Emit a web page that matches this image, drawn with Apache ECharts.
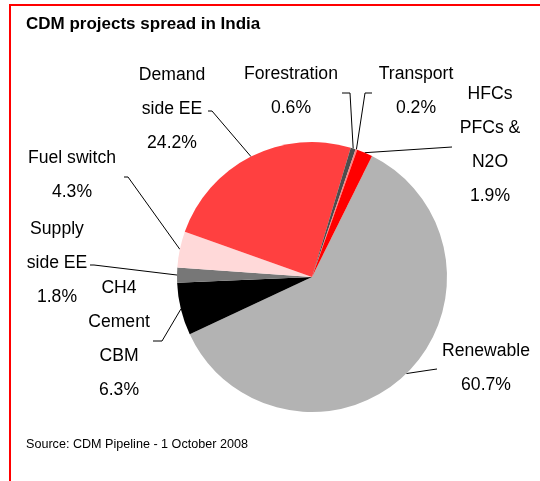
<!DOCTYPE html>
<html>
<head>
<meta charset="utf-8">
<script src="https://cdn.jsdelivr.net/npm/echarts@6/dist/echarts.min.js"></script>
<style>
  html, body { margin: 0; padding: 0; background: #fff; }
  #chart { width: 540px; height: 481px; }
</style>
</head>
<body>
<div id="chart"></div>
<script>
// data, clockwise from the Renewable slice
const names = [
  "Renewable",
  "CH4\nCement\nCBM",
  "Supply\nside EE",
  "Fuel switch",
  "Demand\nside EE",
  "Forestration",
  "Transport",
  "HFCs\nPFCs &\nN2O",
];
const shares = [60.7, 6.3, 1.8, 4.3, 24.2, 0.6, 0.2, 1.9];
const colors = ["#b3b3b3", "#000000", "#777777", "#ffd9d9", "#ff4040", "#4d4d4d", "#ff8080", "#ff0000"];

// where each label block sits: [centre x, centre y, elbow x, elbow y, end x, end y]
const labelPos = [
  [486, 368, 430, 370, 437, 369],
  [119, 339, 162, 341, 153, 341],
  [57, 263, 94, 265, 90, 265],
  [72, 175, 128, 177, 124, 177],
  [172, 109, 212, 111, 208, 111],
  [291, 91, 350, 93, 342, 93],
  [416, 91, 365, 93, 372, 93],
  [490, 145, 452, 147, 452, 147],
];

let myChart = echarts.init(document.getElementById("chart"));
let option = {
  animation: false,
  title: {
    text: "CDM projects spread in India",
    left: 26,
    top: 16,
    padding: 0,
    textStyle: {
      fontFamily: "Liberation Sans",
      fontSize: 17,
      fontWeight: "bold",
      color: "#000",
    },
  },
  graphic: [
    {
      type: "polyline",
      shape: { points: [[10, 481], [10, 5], [540, 5]] },
      style: { stroke: "#ff0000", lineWidth: 2, fill: null },
    },
    {
      type: "text",
      left: 26,
      top: 438,
      style: {
        text: "Source: CDM Pipeline - 1 October 2008",
        font: "12.6px 'Liberation Sans'",
        fill: "#000",
      },
    },
  ],
  series: [
    {
      type: "pie",
      center: [312, 277],
      radius: [0, 135],
      startAngle: 63.6,
      clockwise: true,
      avoidLabelOverlap: false,
      color: colors,
      label: {
        show: true,
        position: "outside",
        fontFamily: "Liberation Sans",
        fontSize: 17.6,
        lineHeight: 34,
        color: "#000",
        align: "center",
        formatter: function (p) {
          return p.name + "\n" + p.value.toFixed(1) + "%";
        },
      },
      labelLine: {
        show: true,
        lineStyle: { color: "#000", width: 1 },
      },
      labelLayout: function (params) {
        const lp = labelPos[params.dataIndex];
        const start = params.labelLinePoints ? params.labelLinePoints[0] : [lp[2], lp[3]];
        return {
          x: lp[0],
          y: lp[1],
          align: "center",
          verticalAlign: "middle",
          labelLinePoints: [start, [lp[2], lp[3]], [lp[4], lp[5]]],
        };
      },
      data: names.map(function (n, i) {
        return { name: n, value: shares[i] };
      }),
    },
  ],
};
myChart.setOption(option);
</script>
</body>
</html>
